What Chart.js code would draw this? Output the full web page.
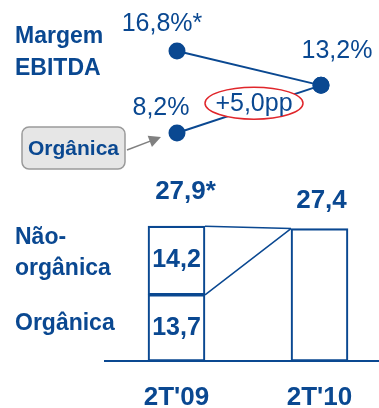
<!DOCTYPE html>
<html>
<head>
<meta charset="utf-8">
<script src="https://cdn.jsdelivr.net/npm/chart.js@4.4.0/dist/chart.umd.min.js"></script>
<style>
  html, body { margin: 0; padding: 0; background: #fff; overflow: hidden; }
  #wrap { position: relative; width: 379px; height: 408px; overflow: hidden; }
  canvas { position: absolute; left: 0; }
  #marginChart { top: 0; }
  #ebitdaChart { top: 175px; }
</style>
</head>
<body>
<div id="wrap">
  <canvas id="marginChart" width="379" height="175"></canvas>
  <canvas id="ebitdaChart" width="400" height="233"></canvas>
</div>
<script>
const periods = ["2T'09", "2T'10"];
const margemEbitda = [16.8, 13.2];
const margemOrganica = [8.2, 13.2];
const margemLabels = ["16,8%*", "13,2%"];
const organicaLabels = ["8,2%", "13,2%"];
const deltaLabel = "+5,0pp";

const ebitdaOrganica = [13.7, 27.4];
const ebitdaNaoOrganica = [14.2, 0];
const totalLabels = ["27,9*", "27,4"];
const segmentLabels = { organica: ["13,7", null], naoOrganica: ["14,2", null] };

const BLUE = "#0a4891";
const FONT = "'Liberation Sans', Arial, sans-serif";

Chart.defaults.font.family = FONT;
Chart.defaults.color = BLUE;

// --- margin lines, labels and callouts ---
const marginDecor = {
    id: "marginDecor",
    afterDatasetsDraw(chart) {
        const { ctx } = chart;
        const top = chart.getDatasetMeta(0).data;
        const low = chart.getDatasetMeta(1).data;

        ctx.save();
        ctx.fillStyle = BLUE;
        ctx.textBaseline = "middle";

        ctx.font = "bold 23px " + FONT;
        ctx.textAlign = "left";
        ctx.fillText("Margem", 15, 37);
        ctx.fillText("EBITDA", 15, 69);

        ctx.font = "25px " + FONT;
        ctx.textAlign = "center";
        ctx.fillText(margemLabels[0], top[0].x - 15, top[0].y - 27);
        ctx.fillText(margemLabels[1], top[1].x + 16, top[1].y - 34);
        ctx.fillText(organicaLabels[0], low[0].x - 16, low[0].y - 25);

        // highlighted gain on the organic line
        const cx = (low[0].x + low[1].x) / 2 + 5;
        const cy = (low[0].y + low[1].y) / 2 - 6;
        ctx.beginPath();
        ctx.ellipse(cx, cy, 49, 16, 0, 0, Math.PI * 2);
        ctx.fillStyle = "#fff";
        ctx.fill();
        ctx.lineWidth = 1.5;
        ctx.strokeStyle = "#e0262b";
        ctx.stroke();
        ctx.fillStyle = BLUE;
        ctx.fillText(deltaLabel, cx, cy + 1);

        // "Orgânica" tag with arrow
        const bx = 22, by = 127, bw = 103, bh = 42;
        ctx.beginPath();
        ctx.roundRect(bx, by, bw, bh, 7);
        ctx.fillStyle = "#e6e6e6";
        ctx.fill();
        ctx.strokeStyle = "#9a9a9a";
        ctx.lineWidth = 1.5;
        ctx.stroke();
        ctx.fillStyle = BLUE;
        ctx.font = "bold 21px " + FONT;
        ctx.fillText("Orgânica", bx + bw / 2, by + bh / 2 + 1);

        const ax0 = bx + bw + 2, ay0 = 150;
        const ax1 = low[0].x - 16, ay1 = low[0].y + 4;
        const ang = Math.atan2(ay1 - ay0, ax1 - ax0);
        ctx.strokeStyle = "#808080";
        ctx.fillStyle = "#808080";
        ctx.lineWidth = 1.5;
        ctx.beginPath();
        ctx.moveTo(ax0, ay0);
        ctx.lineTo(ax1 - 8 * Math.cos(ang), ay1 - 8 * Math.sin(ang));
        ctx.stroke();
        ctx.beginPath();
        ctx.moveTo(ax1, ay1);
        ctx.lineTo(ax1 - 12 * Math.cos(ang) + 6 * Math.sin(ang), ay1 - 12 * Math.sin(ang) - 6 * Math.cos(ang));
        ctx.lineTo(ax1 - 12 * Math.cos(ang) - 6 * Math.sin(ang), ay1 - 12 * Math.sin(ang) + 6 * Math.cos(ang));
        ctx.closePath();
        ctx.fill();

        ctx.restore();
    }
};

new Chart(document.getElementById("marginChart"), {
    type: "line",
    data: {
        labels: periods,
        datasets: [
            { data: margemEbitda, borderColor: BLUE, backgroundColor: BLUE, borderWidth: 2, pointRadius: 7.5, clip: false },
            { data: margemOrganica, borderColor: BLUE, backgroundColor: BLUE, borderWidth: 2, pointRadius: 7.5, clip: false }
        ]
    },
    options: {
        responsive: false,
        devicePixelRatio: 1,
        animation: false,
        layout: { padding: { left: 177, right: 58, top: 39.6, bottom: 21 } },
        plugins: { legend: { display: false }, tooltip: { enabled: false } },
        scales: {
            x: { display: false },
            y: { display: false, min: 6, max: 18 }
        }
    },
    plugins: [marginDecor]
});

// --- EBITDA bars with bridge lines and labels ---
const ebitdaDecor = {
    id: "ebitdaDecor",
    afterDatasetsDraw(chart) {
        const { ctx } = chart;
        const org = chart.getDatasetMeta(0).data;
        const nao = chart.getDatasetMeta(1).data;

        ctx.save();
        ctx.strokeStyle = BLUE;
        ctx.lineWidth = 1.5;
        const leftEdge = org[0].x + org[0].width / 2;
        const rightEdge = org[1].x - org[1].width / 2;
        ctx.beginPath();
        ctx.moveTo(leftEdge, nao[0].y);
        ctx.lineTo(rightEdge, org[1].y);
        ctx.moveTo(leftEdge, org[0].y);
        ctx.lineTo(rightEdge, org[1].y);
        ctx.stroke();

        ctx.fillStyle = BLUE;
        ctx.textBaseline = "middle";
        ctx.textAlign = "center";
        ctx.font = "bold 25px " + FONT;
        ctx.fillText(segmentLabels.naoOrganica[0], nao[0].x, (nao[0].y + nao[0].base) / 2);
        ctx.fillText(segmentLabels.organica[0], org[0].x, (org[0].y + org[0].base) / 2);

        ctx.font = "bold 26px " + FONT;
        ctx.fillText(totalLabels[0], nao[0].x + 9, nao[0].y - 34);
        ctx.fillText(totalLabels[1], org[1].x + 2, org[1].y - 28);

        ctx.textAlign = "left";
        ctx.font = "bold 23px " + FONT;
        const naoMid = (nao[0].y + nao[0].base) / 2;
        ctx.fillText("Não-", 15, naoMid - 23);
        ctx.fillText("orgânica", 15, naoMid + 8);
        ctx.fillText("Orgânica", 15, (org[0].y + org[0].base) / 2 - 4);
        ctx.restore();
    }
};

new Chart(document.getElementById("ebitdaChart"), {
    type: "bar",
    data: {
        labels: periods,
        datasets: [
            { data: ebitdaOrganica, backgroundColor: "rgba(255,255,255,0)", borderColor: BLUE, borderWidth: 1.5, borderSkipped: false, barThickness: 57 },
            { data: ebitdaNaoOrganica, backgroundColor: "rgba(255,255,255,0)", borderColor: BLUE, borderWidth: 1.5, borderSkipped: false, barThickness: 57 }
        ]
    },
    options: {
        responsive: false,
        devicePixelRatio: 1,
        animation: false,
        layout: { padding: { left: 105, right: 9, top: 41, bottom: 0 } },
        plugins: { legend: { display: false }, tooltip: { enabled: false } },
        scales: {
            x: {
                stacked: true,
                grid: { display: false, drawTicks: false },
                border: { display: true, color: BLUE, width: 2 },
                ticks: { color: BLUE, font: { size: 26, weight: "bold" }, padding: 21 },
                afterFit(scale) { scale.height = 47; }
            },
            y: { stacked: true, display: false, min: 0, max: 30 }
        }
    },
    plugins: [ebitdaDecor]
});
</script>
</body>
</html>
